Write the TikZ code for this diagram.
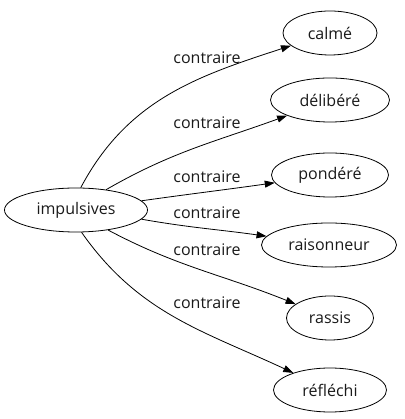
\documentclass[tikz,border=0pt]{standalone}
\usepackage{fontspec}
\setmainfont{Open Sans}
\usetikzlibrary{
  arrows.meta,
  shapes.geometric
}
\definecolor{wordInk}{HTML}{1A1A1A}
\tikzset{
  every node/.style={font=\fontsize{16}{18}\selectfont, text=wordInk},
  word/.style={
    ellipse,
    draw=black,
    line width=0.8pt,
    inner xsep=6pt,
    inner ysep=2pt,
    minimum height=44pt
  },
  tag/.style={inner sep=1pt},
  link/.style={
    -{Triangle[length=10pt,width=7pt]},
    line width=0.8pt,
    draw=black
  }
}
\begin{document}
\begin{tikzpicture}[x=1pt, y=1pt]
  \useasboundingbox (0,0) rectangle (404,419);

  \node[word, minimum width=143pt] (imp) at (76,209) {impulsives};

  \node[word, minimum width=94pt] (calme) at (330,386) {calmé};
  \node[word, minimum width=119pt] (delibere) at (330,319) {délibéré};
  \node[word, minimum width=117pt] (pondere) at (330,244) {pondéré};
  \node[word, minimum width=135pt] (raison) at (329,174) {raisonneur};
  \node[word, minimum width=87pt] (rassis) at (330,101) {rassis};
  \node[word, minimum width=113pt] (reflechi) at (330,29) {réfléchi};

  \draw[link] (imp.78) to[out=62, in=198] (calme);
  \draw[link] (imp.34) to[out=30, in=200] (delibere);
  \draw[link] (imp.8) to[out=8, in=188] (pondere);
  \draw[link] (imp.-8) to[out=-10, in=172] (raison);
  \draw[link] (imp.-32) to[out=-28, in=158] (rassis);
  \draw[link] (imp.-76) to[out=-55, in=155] (reflechi);

  \node[tag] (t1) at (207,361) {contraire};
  \node[tag] (t2) at (207,296) {contraire};
  \node[tag] (t3) at (207,242) {contraire};
  \node[tag] (t4) at (207,206) {contraire};
  \node[tag] (t5) at (207,169) {contraire};
  \node[tag] (t6) at (207,116) {contraire};
\end{tikzpicture}
\end{document}
